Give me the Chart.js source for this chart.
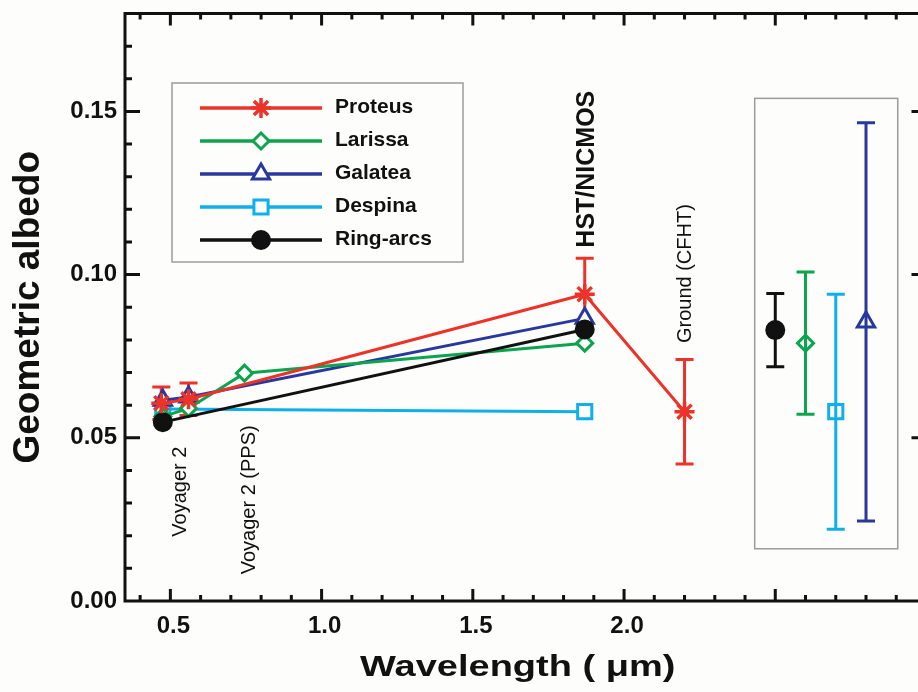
<!DOCTYPE html>
<html>
<head>
<meta charset="utf-8">
<script src="https://cdn.jsdelivr.net/npm/chart.js@4.4.1/dist/chart.umd.min.js"></script>
<style>
html, body { margin: 0; padding: 0; overflow: hidden; background: #fdfdfb; }
#wrap { width: 940px; height: 692px; }
</style>
</head>
<body>
<div id="wrap"><canvas id="myChart"></canvas></div>
<script>
// albedo values (x = wavelength in micron)
const proteusX = [0.47, 0.56, 1.87, 2.2];
const proteusY = [0.0606, 0.0618, 0.094, 0.058];
const proteusErr = [0.005, 0.005, 0.011, 0.016];

const larissaX = [0.475, 0.56, 0.745, 1.87];
const larissaY = [0.0565, 0.059, 0.0698, 0.079];

const galateaX = [0.475, 0.56, 1.87];
const galateaY = [0.0615, 0.0625, 0.0866];

const despinaX = [0.475, 1.87];
const despinaY = [0.0588, 0.058];

const ringX = [0.475, 1.87];
const ringY = [0.0548, 0.0832];

// averages shown in the box on the right
const meanNames = ['Ring-arcs', 'Larissa', 'Despina', 'Galatea'];
const meanX = [2.5, 2.6, 2.7, 2.8];
const meanY = [0.083, 0.079, 0.058, 0.0855];
const meanErr = [0.0112, 0.0218, 0.036, 0.061];

const yTicks = [0, 0.05, 0.10, 0.15];
const xTicks = [0.5, 1.0, 1.5, 2.0];
const xMajor = [0.5, 1.0, 1.5, 2.0, 2.5];

const notes = ['Voyager 2', 'Voyager 2 (PPS)', 'HST/NICMOS', 'Ground (CFHT)'];
const noteX = [0.535, 0.763, 1.878, 2.204];
const noteY = [0.0335, 0.031, 0.1323, 0.1003];
const noteBold = [false, false, true, false];

const legendOrder = ['Proteus', 'Larissa', 'Galatea', 'Despina', 'Ring-arcs'];

const FONT = 'Liberation Sans, Arial, Helvetica, sans-serif';

const styles = {
    'Proteus':   { color: '#ec3329', pointStyle: 'star',     radius: 10,  fill: '#ec3329' },
    'Larissa':   { color: '#0ca44f', pointStyle: 'rectRot',  radius: 8,   fill: '#ffffff' },
    'Galatea':   { color: '#28389c', pointStyle: 'triangle', radius: 10,  fill: '#ffffff' },
    'Despina':   { color: '#0fb0ea', pointStyle: 'rect',     radius: 10,  fill: '#ffffff' },
    'Ring-arcs': { color: '#111111', pointStyle: 'circle',   radius: 8.5, fill: '#111111' }
};

function pts(xs, ys) {
    return xs.map((x, i) => ({ x: x, y: ys[i] }));
}

function series(name, xs, ys, errs) {
    const s = styles[name];
    return {
        label: name,
        data: pts(xs, ys),
        errors: errs || null,
        showLine: true,
        borderColor: s.color,
        borderWidth: 3,
        backgroundColor: s.fill,
        pointStyle: s.pointStyle,
        pointRadius: s.radius,
        pointBorderWidth: name === 'Proteus' ? 3.5 : 3,
        pointBackgroundColor: s.fill,
        pointBorderColor: s.color,
        tension: 0
    };
}

const datasets = [
    series('Proteus', proteusX, proteusY, proteusErr),
    series('Ring-arcs', ringX, ringY),
    series('Larissa', larissaX, larissaY),
    series('Galatea', galateaX, galateaY),
    series('Despina', despinaX, despinaY)
];

meanNames.forEach((name, i) => {
    const d = series(name, [meanX[i]], [meanY[i]], [meanErr[i]]);
    d.showLine = false;
    d.errOnTop = true;
    d.label = name + ' mean';
    datasets.push(d);
});

// box around the averages, in data units
const meanBox = { x0: 2.432, x1: 2.905, y0: 0.016, y1: 0.154 };

function drawErrors(chart, onTop) {
    const ctx = chart.ctx;
    const ys = chart.scales.y;
    chart.data.datasets.forEach((ds, di) => {
        if (!ds.errors || !!ds.errOnTop !== onTop) return;
        const meta = chart.getDatasetMeta(di);
        ctx.save();
        ctx.strokeStyle = ds.borderColor;
        ctx.lineWidth = 3;
        meta.data.forEach((p, i) => {
            const v = ds.data[i].y;
            const e = ds.errors[i];
            const top = ys.getPixelForValue(v + e);
            const bot = ys.getPixelForValue(v - e);
            ctx.beginPath();
            ctx.moveTo(p.x, top);
            ctx.lineTo(p.x, bot);
            ctx.moveTo(p.x - 9, top);
            ctx.lineTo(p.x + 9, top);
            ctx.moveTo(p.x - 9, bot);
            ctx.lineTo(p.x + 9, bot);
            ctx.stroke();
        });
        ctx.restore();
    });
}

const decor = {
    id: 'decor',
    beforeDraw(chart) {
        const ctx = chart.ctx;
        ctx.save();
        ctx.fillStyle = '#fdfdfb';
        ctx.fillRect(0, 0, chart.width, chart.height);
        ctx.restore();
    },
    beforeDatasetsDraw(chart) {
        const ctx = chart.ctx;
        const xs = chart.scales.x, ys = chart.scales.y;
        // box round the averages
        ctx.save();
        ctx.strokeStyle = '#9c9c9c';
        ctx.lineWidth = 1.5;
        const bx0 = xs.getPixelForValue(meanBox.x0), bx1 = xs.getPixelForValue(meanBox.x1);
        const by0 = ys.getPixelForValue(meanBox.y1), by1 = ys.getPixelForValue(meanBox.y0);
        ctx.strokeRect(bx0, by0, bx1 - bx0, by1 - by0);
        ctx.restore();
        drawErrors(chart, false);
    },
    afterDatasetsDraw(chart) {
        drawErrors(chart, true);
    },
    afterDraw(chart) {
        const ctx = chart.ctx;
        const a = chart.chartArea;
        const xs = chart.scales.x, ys = chart.scales.y;

        // frame and inward ticks
        ctx.save();
        ctx.strokeStyle = '#111';
        ctx.lineWidth = 3;
        ctx.strokeRect(a.left, a.top, a.right - a.left, a.bottom - a.top);
        ctx.beginPath();
        for (let k = 4; k <= 29; k++) {
            const v = k / 10;
            const px = xs.getPixelForValue(v);
            const major = xMajor.some(m => Math.abs(m - v) < 1e-6);
            const len = major ? 12 : 6;
            ctx.moveTo(px, a.bottom);
            ctx.lineTo(px, a.bottom - len);
            ctx.moveTo(px, a.top);
            ctx.lineTo(px, a.top + len);
        }
        for (let k = 1; k <= 17; k++) {
            const v = k / 100;
            const py = ys.getPixelForValue(v);
            const major = k % 5 === 0;
            const len = major ? 15 : 7;
            ctx.moveTo(a.left, py);
            ctx.lineTo(a.left + len, py);
            ctx.moveTo(a.right, py);
            ctx.lineTo(a.right - len, py);
        }
        ctx.stroke();
        ctx.restore();

        // rotated notes
        ctx.save();
        ctx.fillStyle = '#111';
        notes.forEach((t, i) => {
            ctx.save();
            ctx.translate(xs.getPixelForValue(noteX[i]), ys.getPixelForValue(noteY[i]));
            ctx.rotate(-Math.PI / 2);
            ctx.font = noteBold[i] ? 'bold 25px ' + FONT : '20px ' + FONT;
            ctx.textAlign = 'center';
            ctx.textBaseline = 'middle';
            ctx.fillText(t, 0, 0);
            ctx.restore();
        });
        ctx.restore();

        // legend
        const lx = a.left + 47, ly = 83, lw = 291, lh = 179;
        ctx.save();
        ctx.fillStyle = '#fdfdfb';
        ctx.fillRect(lx, ly, lw, lh);
        ctx.strokeStyle = '#9c9c9c';
        ctx.lineWidth = 1.5;
        ctx.strokeRect(lx, ly, lw, lh);
        legendOrder.forEach((name, i) => {
            const s = styles[name];
            const ry = ly + 25 + i * 33;
            ctx.strokeStyle = s.color;
            ctx.lineWidth = 3.5;
            ctx.beginPath();
            ctx.moveTo(lx + 28, ry);
            ctx.lineTo(lx + 150, ry);
            ctx.stroke();
            ctx.fillStyle = s.fill;
            ctx.lineWidth = name === 'Proteus' ? 3.5 : 3;
            Chart.helpers.drawPoint(ctx, {
                pointStyle: s.pointStyle, radius: s.radius, borderWidth: ctx.lineWidth, rotation: 0
            }, lx + 89, ry);
            ctx.fillStyle = '#111';
            ctx.font = 'bold 21px ' + FONT;
            ctx.textAlign = 'left';
            ctx.textBaseline = 'middle';
            ctx.fillText(name, lx + 163, ry - 1);
        });
        ctx.restore();

        // x axis title, squeezed a little vertically like the original
        ctx.save();
        ctx.fillStyle = '#111';
        ctx.translate((a.left + a.right) / 2 - 8, 676);
        ctx.scale(1, 0.8);
        ctx.font = 'bold 38px ' + FONT;
        ctx.textAlign = 'center';
        ctx.textBaseline = 'alphabetic';
        ctx.fillText('Wavelength ( \u03bcm)', 0, 0);
        ctx.restore();
    }
};

const ctx = document.getElementById('myChart');

new Chart(ctx, {
    type: 'scatter',
    data: { datasets: datasets },
    options: {
        responsive: true,
        maintainAspectRatio: false,
        animation: false,
        events: [],
        layout: { padding: { left: 0, top: 8, right: 13, bottom: 0 } },
        plugins: {
            legend: { display: false },
            tooltip: { enabled: false }
        },
        scales: {
            x: {
                type: 'linear',
                min: 0.35,
                max: 3.0,
                afterFit: s => {
                    s.height = 91;
                    s.paddingLeft = 0;
                    s.paddingRight = 0;
                },
                afterBuildTicks: s => { s.ticks = xTicks.map(v => ({ value: v })); },
                grid: { display: false, drawTicks: false },
                border: { display: false },
                ticks: {
                    color: '#111',
                    padding: 11,
                    labelOffset: 3,
                    maxRotation: 0,
                    autoSkip: false,
                    font: { family: FONT, size: 24, weight: 'bold' },
                    callback: v => v.toFixed(1)
                }
            },
            y: {
                type: 'linear',
                min: 0,
                max: 0.18,
                afterFit: s => {
                    s.width = 125;
                    s.paddingTop = 0;
                    s.paddingBottom = 0;
                },
                afterBuildTicks: s => { s.ticks = yTicks.map(v => ({ value: v })); },
                grid: { display: false, drawTicks: false },
                border: { display: false },
                title: {
                    display: true,
                    text: 'Geometric albedo',
                    color: '#111',
                    padding: { top: 7, bottom: 0 },
                    font: { family: FONT, size: 37, weight: 'bold', lineHeight: 1.2 }
                },
                ticks: {
                    color: '#111',
                    padding: 8,
                    autoSkip: false,
                    font: { family: FONT, size: 24, weight: 'bold' },
                    callback: v => v.toFixed(2)
                }
            }
        }
    },
    plugins: [decor]
});
</script>
</body>
</html>
